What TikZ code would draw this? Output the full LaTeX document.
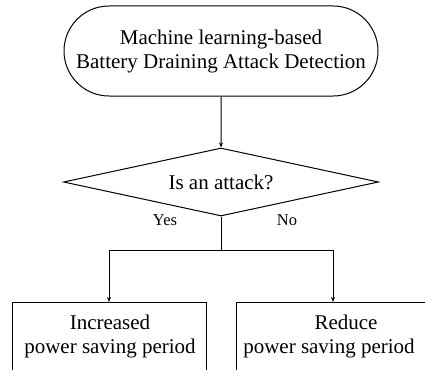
\documentclass[tikz,border=0pt]{standalone}
\usepackage{fontspec}
\setmainfont{Liberation Serif}
\usetikzlibrary{shapes.geometric,shapes.misc,arrows.meta}
\begin{document}
\begin{tikzpicture}[x=1pt,y=-1pt, line width=1pt,
  every node/.style={inner sep=0pt},
  term/.style={draw, rounded rectangle, minimum width=314pt, minimum height=90pt},
  decide/.style={draw, diamond, shape aspect=4.6, minimum width=315pt, minimum height=68pt},
  box/.style={draw, rectangle, minimum width=194pt, minimum height=100pt, anchor=north},
  txt/.style={font=\fontsize{21}{24}\selectfont, align=center},
  small/.style={font=\fontsize{16.5}{19}\selectfont},
  arr/.style={-{Stealth[length=5pt,width=4pt]}}]
\useasboundingbox (0,0) rectangle (425,369);
\node[term, txt] (start) at (221,51) {Machine learning-based\\Battery Draining Attack Detection};
\node[decide, txt] (dec) at (221,182) {Is an attack?};
\node[small] (yes) at (165,220) {Yes};
\node[small] (no) at (287,220) {No};
\node[box] (inc) at (109,302) {};
\node[box] (red) at (333,302) {};
\node[txt] (inct) at (110,336) {Increased\\power saving period};
\node[txt] (redt) at (329,336) {\hspace*{34pt}Reduce\\power saving period};
\coordinate (split) at (221,250);
\draw[arr] (start) -- (dec);
\draw (dec.south) -- (split);
\draw[arr] (split) -| (inc.north);
\draw[arr] (split) -| (red.north);
\end{tikzpicture}
\end{document}
